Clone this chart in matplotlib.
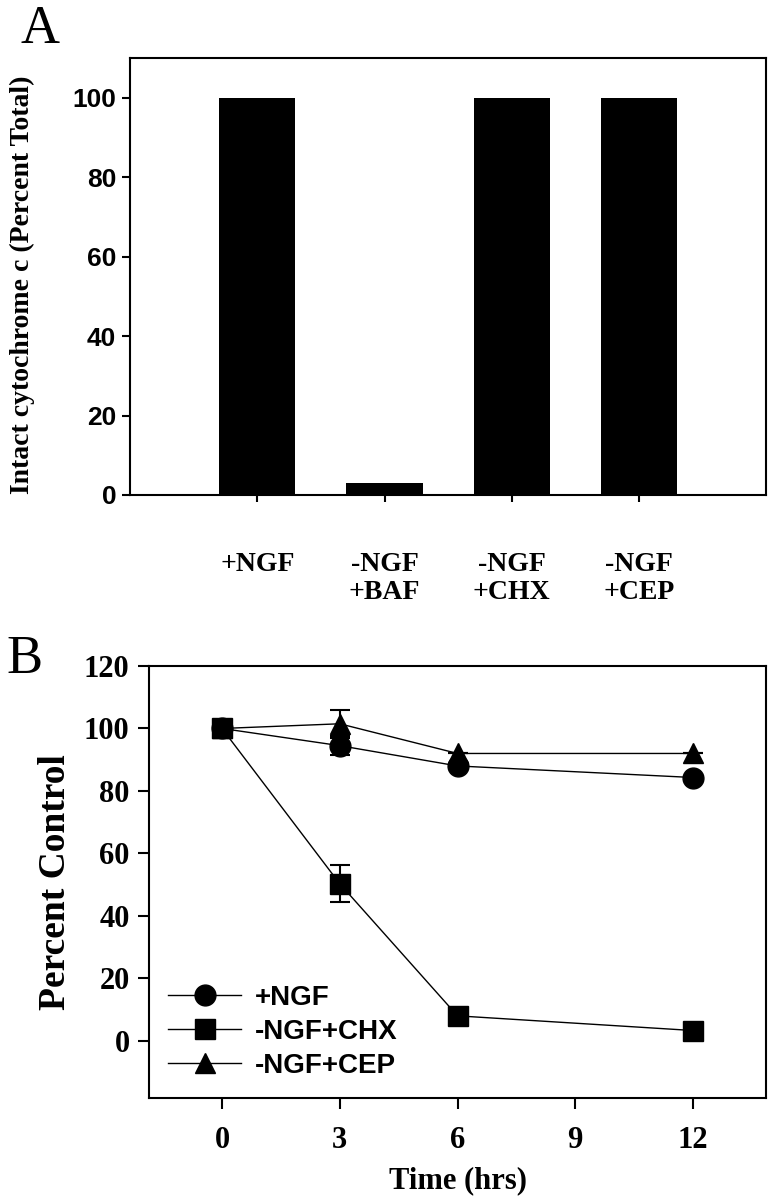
#!/usr/bin/env python3

import matplotlib
matplotlib.use('Agg')
import matplotlib.pyplot as plt
import numpy as np

# panel A data
groups = ['+NGF', '-NGF\n+BAF', '-NGF\n+CHX', '-NGF\n+CEP']
intact = [100, 3, 100, 100]

# panel B data
hours = [0, 3, 6, 12]
ngf = [100, 94.5, 88, 84.3]
ngf_err = [1.5, 3, 0, 0]
chx = [100, 50.3, 8, 3.3]
chx_err = [0, 6, 0, 0]
cep = [100, 101.5, 92, 92]
cep_err = [0, 4.5, 0, 0]

serif = 'Liberation Serif'
sans = 'Liberation Sans'

fig = plt.figure(figsize=(7.74, 12), dpi=100)

# ---- panel A
axA = fig.add_axes([0.168, 0.5875, 0.822, 0.3642])
x = np.arange(1, len(groups) + 1)
axA.bar(x, intact, width=0.6, color='black')
axA.set_xlim(0, 5)
axA.set_ylim(0, 110)
axA.set_yticks([0, 20, 40, 60, 80, 100])
axA.set_xticks(x)
axA.set_xticklabels(groups, family=serif, fontweight='bold', fontsize=20,
                    linespacing=1.15, va='top')
for lab in axA.get_yticklabels():
    lab.set_family(sans)
    lab.set_fontweight('bold')
    lab.set_fontsize(19)
axA.tick_params(axis='x', direction='out', length=5, width=1.5, pad=36)
axA.tick_params(axis='y', direction='out', length=6, width=1.5, pad=4)
for s in axA.spines.values():
    s.set_linewidth(1.5)
axA.set_ylabel('Intact cytochrome c (Percent Total)', family=serif,
               fontweight='bold', fontsize=20)
axA.yaxis.set_label_coords(-0.15, 0.48)
fig.text(0.026, 1 - 43 / 1200, 'A', family=serif, fontsize=39,
         va='baseline', ha='left')

# ---- panel B
axB = fig.add_axes([0.1925, 0.085, 0.7972, 0.36])
ms = 15
styles = [(ngf, ngf_err, 'o', ms, '+NGF'),
          (chx, chx_err, 's', ms - 1, '-NGF+CHX'),
          (cep, cep_err, '^', ms, '-NGF+CEP')]
for vals, err, mk, size, name in styles:
    axB.errorbar(hours, vals, yerr=err, fmt='none', ecolor='black',
                 elinewidth=1.5, capsize=7, capthick=1.5)
    axB.plot(hours, vals, color='black', marker=mk, ms=size, lw=1,
             label=name)
axB.set_xlim(-1.86, 13.86)
axB.set_ylim(-18.3, 120)
axB.set_xticks([0, 3, 6, 9, 12])
axB.set_yticks([0, 20, 40, 60, 80, 100, 120])
for lab in axB.get_xticklabels() + axB.get_yticklabels():
    lab.set_family(serif)
    lab.set_fontweight('bold')
    lab.set_fontsize(22)
axB.tick_params(axis='both', direction='out', length=8, width=1.5)
axB.tick_params(axis='x', pad=12)
axB.tick_params(axis='y', pad=6)
for s in axB.spines.values():
    s.set_linewidth(1.5)
axB.set_xlabel('Time (hrs)', family=serif, fontweight='bold', fontsize=22,
               labelpad=8)
axB.set_ylabel('Percent Control', family=serif, fontweight='bold',
               fontsize=27, labelpad=8)
axB.legend(loc='lower left', frameon=False,
           prop={'family': sans, 'weight': 'bold', 'size': 20},
           handlelength=2.6, handletextpad=0.5, labelspacing=0.28,
           borderaxespad=0.3, bbox_to_anchor=(0.0, 0.0))
fig.text(0.008, 1 - 673 / 1200, 'B', family=serif, fontsize=39,
         va='baseline', ha='left')

plt.savefig('out.png', dpi=100)
